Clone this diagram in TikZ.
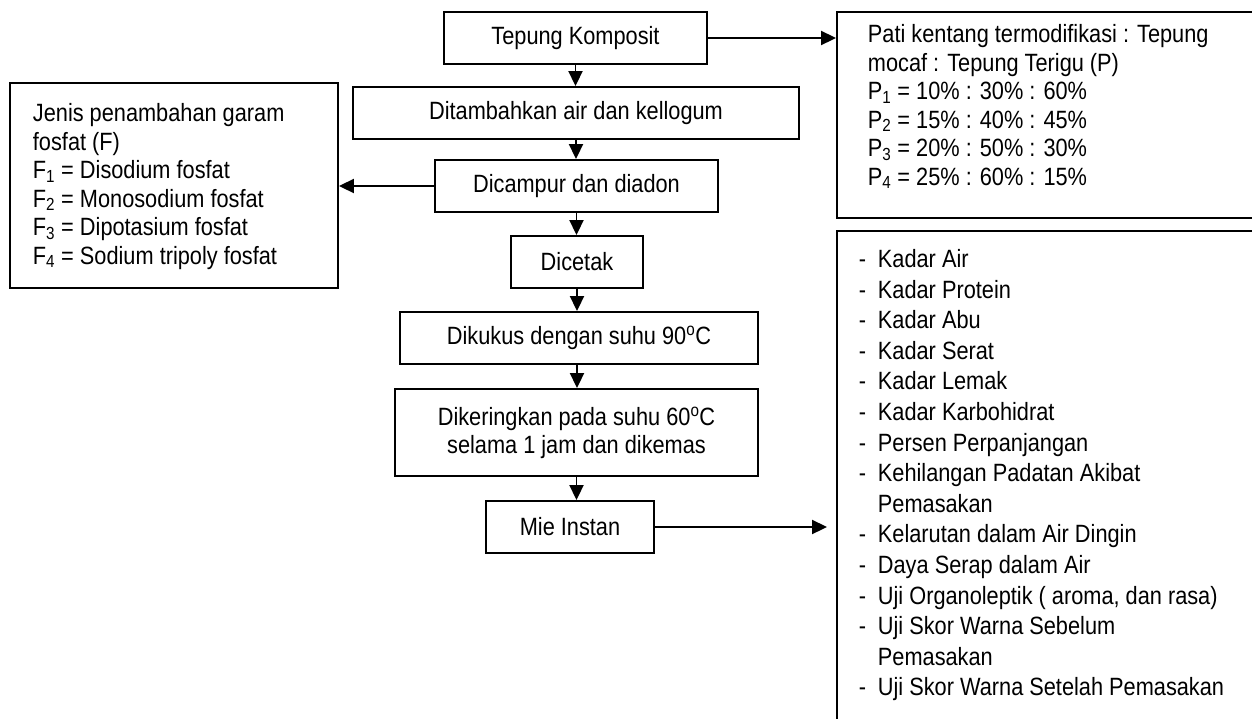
\documentclass[tikz,border=0pt]{standalone}
\usepackage{fontspec}
\setmainfont{Liberation Sans}[FakeStretch=0.87]
\usetikzlibrary{arrows.meta}
\newcommand{\itemdash}{\makebox[19pt][l]{-}}

\begin{document}
\begin{tikzpicture}[x=1pt, y=-1pt, line width=1.9pt,
    stepbox/.style={draw, inner sep=0pt, align=center, font=\fontsize{25}{28}\selectfont},
    sidetext/.style={anchor=north west, inner sep=0pt, align=left, font=\fontsize{25}{28.5}\selectfont},
    flow/.style={-{Triangle[length=15pt,width=14pt]}}]

    % page frame
    \useasboundingbox (0,0) rectangle (1252,718);
    \clip (0,0) rectangle (1252,718);

    % process steps
    \node[stepbox, minimum width=263pt, minimum height=52pt] (komposit) at (575.5,38) {Tepung Komposit};
    \node[stepbox, minimum width=446pt, minimum height=52pt] (tambah) at (576,113) {Ditambahkan air dan kellogum};
    \node[stepbox, minimum width=283pt, minimum height=52pt] (campur) at (576.5,186) {Dicampur dan diadon};
    \node[stepbox, minimum width=132pt, minimum height=52pt] (cetak) at (577,262) {Dicetak};
    \node[stepbox, minimum width=358pt, minimum height=52pt] (kukus) at (579,338) {Dikukus dengan suhu 90\textsuperscript{o}C};
    \node[stepbox, minimum width=363pt, minimum height=87pt] (kering) at (576.5,432.5) {Dikeringkan pada suhu 60\textsuperscript{o}C\\selama 1 jam dan dikemas};
    \node[stepbox, minimum width=168pt, minimum height=52pt] (mie) at (570,527) {Mie Instan};

    % side boxes
    \node[draw, minimum width=328pt, minimum height=205pt] (fbox) at (174,185.5) {};
    \node[draw, minimum width=433pt, minimum height=206pt] (pbox) at (1053.5,115) {};
    \node[draw, minimum width=433pt, minimum height=509pt] (lbox) at (1053.5,485.5) {};

    % side texts
    \node[sidetext] (ftext) at (32,102.5) {Jenis penambahan garam\\fosfat (F)\\
        F\textsubscript{1} = Disodium fosfat\\F\textsubscript{2} = Monosodium fosfat\\
        F\textsubscript{3} = Dipotasium fosfat\\F\textsubscript{4} = Sodium tripoly fosfat};
    \node[sidetext] (ptext) at (867,23.5) {Pati kentang termodifikasi : Tepung\\mocaf : Tepung Terigu (P)\\
        P\textsubscript{1} = 10\% : 30\% : 60\%\\P\textsubscript{2} = 15\% : 40\% : 45\%\\
        P\textsubscript{3} = 20\% : 50\% : 30\%\\P\textsubscript{4} = 25\% : 60\% : 15\%};
    \node[sidetext, font=\fontsize{25}{30.6}\selectfont] (ltext) at (858,248.5) {\itemdash Kadar Air\\
        \itemdash Kadar Protein\\\itemdash Kadar Abu\\\itemdash Kadar Serat\\\itemdash Kadar Lemak\\
        \itemdash Kadar Karbohidrat\\\itemdash Persen Perpanjangan\\
        \itemdash Kehilangan Padatan Akibat\\\hspace*{19pt}Pemasakan\\
        \itemdash Kelarutan dalam Air Dingin\\\itemdash Daya Serap dalam Air\\
        \itemdash Uji Organoleptik ( aroma, dan rasa)\\\itemdash Uji Skor Warna Sebelum\\
        \hspace*{19pt}Pemasakan\\\itemdash Uji Skor Warna Setelah Pemasakan};

    % arrows
    \draw[flow] (komposit.south) -- (komposit.south |- tambah.north);
    \draw[flow] (tambah.south) -- (tambah.south |- campur.north);
    \draw[flow] (campur.south) -- (campur.south |- cetak.north);
    \draw[flow] (cetak.south) -- (cetak.south |- kukus.north);
    \draw[flow] (kukus.south -| cetak.south) -- (cetak.south |- kering.north);
    \draw[flow] (kering.south) -- (kering.south |- mie.north);
    \draw[flow] (komposit.east) -- (komposit.east -| pbox.west);
    \draw[flow] (campur.west) -- (campur.west -| fbox.east);
    \draw[flow, shorten >=9pt] (mie.east) -- (mie.east -| lbox.west);

\end{tikzpicture}
\end{document}
